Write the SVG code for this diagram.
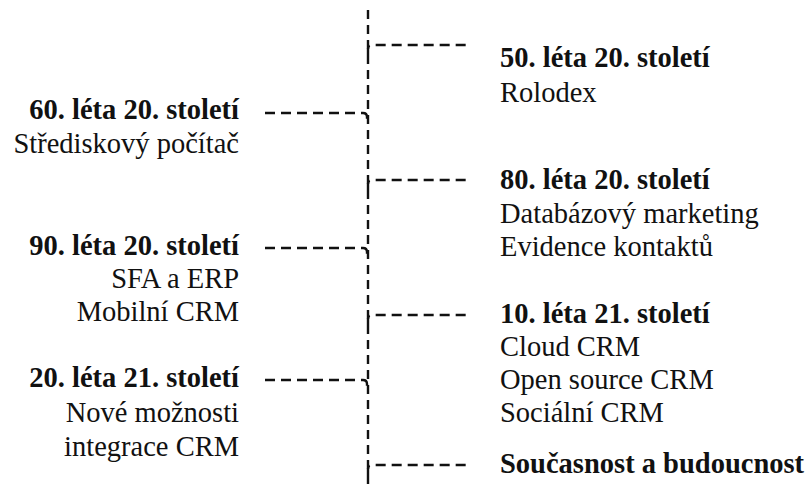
<svg xmlns="http://www.w3.org/2000/svg" width="808" height="487" viewBox="0 0 808 487">
  <style>
    .t { font-family: "Liberation Serif", "Times New Roman", serif; font-size: 28.5px; fill: #111; }
    .h { font-weight: bold; }
    .l { text-anchor: end; }
    .dash { fill: none; stroke: #111; stroke-width: 2.4; stroke-dasharray: 10 6; }
    .trunk { fill: none; stroke: #111; stroke-width: 2.4; stroke-dasharray: 9 6; }
  </style>
  <rect width="808" height="487" fill="#fff"/>

  <g id="connectors">
    <path class="trunk" d="M368,10 V487"/>
    <!-- right-hand branches -->
    <path class="dash" d="M368,55 V49 Q368,45 372,45 H471"/>
    <path class="dash" d="M368,190 V184 Q368,180 372,180 H471"/>
    <path class="dash" d="M368,325 V319 Q368,315 372,315 H471"/>
    <path class="dash" d="M368,475 V469 Q368,465 372,465 H471"/>
    <!-- left-hand branches -->
    <path class="dash" d="M265,113 H363 Q367,113 367,117 V123"/>
    <path class="dash" d="M265,248 H363 Q367,248 367,252 V258"/>
    <path class="dash" d="M265,380 H363 Q367,380 367,384 V390"/>
  </g>

  <g id="n1950">
    <text class="t h" x="500" y="67">50. léta 20. století</text>
    <text class="t" x="500" y="102">Rolodex</text>
  </g>
  <g id="n1960">
    <text class="t h l" x="239" y="119">60. léta 20. století</text>
    <text class="t l" x="239" y="153">Střediskový počítač</text>
  </g>
  <g id="n1980">
    <text class="t h" x="500" y="189">80. léta 20. století</text>
    <text class="t" x="500" y="223">Databázový marketing</text>
    <text class="t" x="500" y="256">Evidence kontaktů</text>
  </g>
  <g id="n1990">
    <text class="t h l" x="239" y="255">90. léta 20. století</text>
    <text class="t l" x="239" y="288">SFA a ERP</text>
    <text class="t l" x="239" y="321">Mobilní CRM</text>
  </g>
  <g id="n2010">
    <text class="t h" x="500" y="323">10. léta 21. století</text>
    <text class="t" x="500" y="356">Cloud CRM</text>
    <text class="t" x="500" y="389">Open source CRM</text>
    <text class="t" x="500" y="422">Sociální CRM</text>
  </g>
  <g id="n2020">
    <text class="t h l" x="239" y="387">20. léta 21. století</text>
    <text class="t l" x="239" y="422">Nové možnosti</text>
    <text class="t l" x="239" y="456">integrace CRM</text>
  </g>
  <g id="nfuture">
    <text class="t h" x="500" y="473">Současnost a budoucnost</text>
  </g>
</svg>
